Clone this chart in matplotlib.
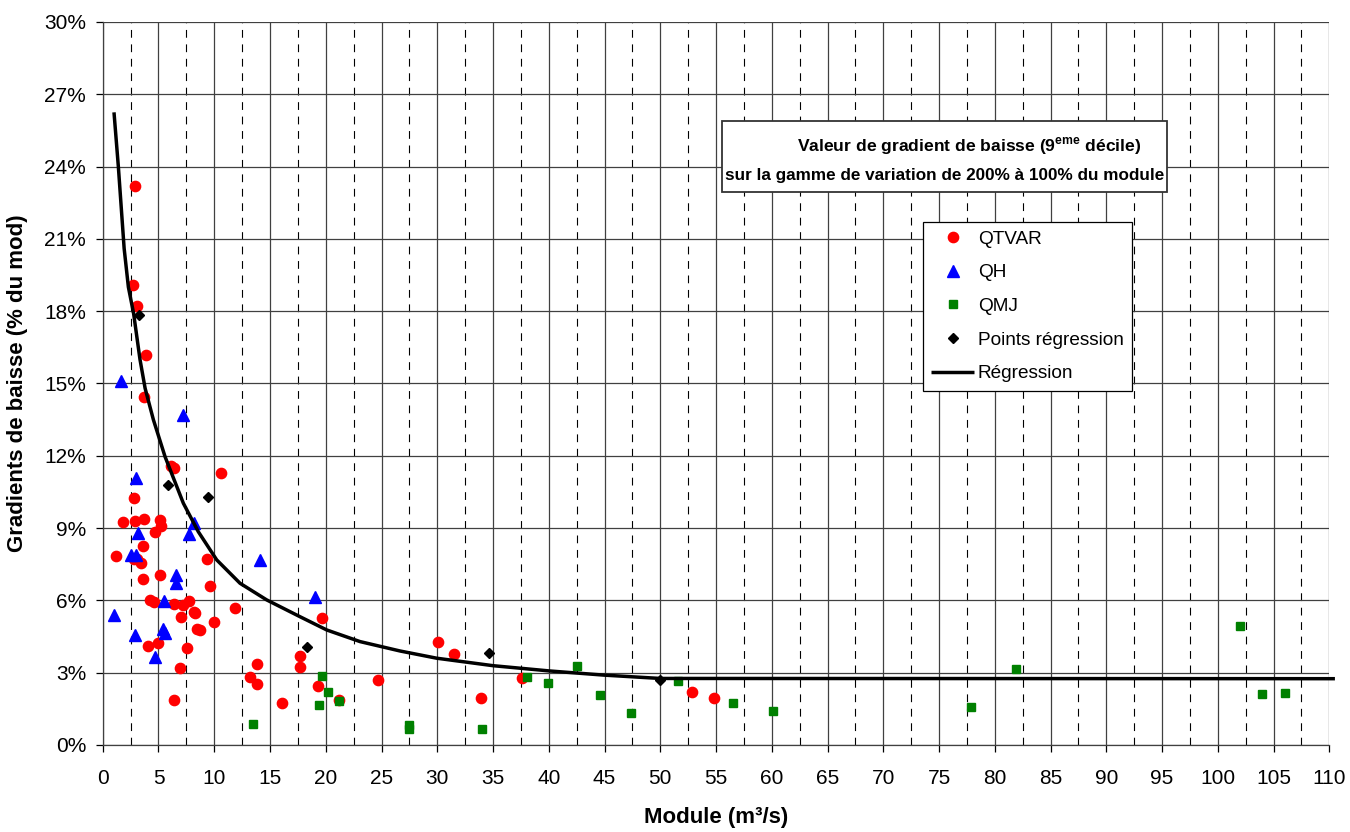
import matplotlib
matplotlib.use("Agg")
import numpy as np
import matplotlib.pyplot as plt
from matplotlib.ticker import FixedLocator, FuncFormatter
from matplotlib.patches import Rectangle

plt.rcParams['font.family'] = ['Liberation Sans', 'DejaVu Sans']
plt.rcParams['mathtext.fontset'] = 'custom'
plt.rcParams['mathtext.rm'] = 'Liberation Sans'
plt.rcParams['mathtext.bf'] = 'Liberation Sans:bold'

# QTVAR stations: module (m3/s) and gradient (% du module)
qtvar_x = [2.9, 2.7, 3.1, 3.9, 3.7, 6.1, 6.35, 10.6, 2.8, 1.8, 2.9, 3.7, 5.1, 5.23,
           4.7, 3.64, 1.19, 2.8, 3.1, 3.45, 5.1, 3.6, 9.62, 9.38, 4.24, 4.6, 6.35,
           7.2, 7.77, 8.2, 8.28, 7.0, 11.9, 10.0, 8.43, 8.72, 4.1, 4.97, 7.55, 6.9,
           13.8, 13.2, 13.8, 6.42, 16.1, 17.7, 17.7, 19.3, 19.7, 21.2, 24.7, 30.1,
           31.5, 33.9, 37.6, 52.8, 54.8]
qtvar_y = [23.2, 19.1, 18.2, 16.2, 14.45, 11.58, 11.5, 11.3, 10.24, 9.24, 9.31, 9.38,
           9.33, 9.09, 8.85, 8.27, 7.83, 7.72, 7.72, 7.56, 7.04, 6.9, 6.58, 7.73,
           6.02, 5.95, 5.87, 5.8, 5.99, 5.53, 5.49, 5.3, 5.68, 5.12, 4.83, 4.77,
           4.09, 4.23, 4.01, 3.18, 3.36, 2.81, 2.53, 1.85, 1.74, 3.71, 3.24, 2.43,
           5.28, 1.87, 2.7, 4.26, 3.79, 1.96, 2.77, 2.21, 1.96]

# QH stations
qh_x = [1.6, 7.23, 3.0, 3.13, 8.2, 7.77, 2.5, 3.0, 6.54, 6.54, 14.1, 5.47, 0.98,
        2.9, 5.38, 5.55, 4.69, 19.0]
qh_y = [15.1, 13.69, 11.07, 8.78, 9.2, 8.75, 7.9, 7.9, 7.05, 6.74, 7.68, 5.97, 5.39,
        4.58, 4.82, 4.65, 3.67, 6.12]

# QMJ stations
qmj_x = [13.48, 19.7, 20.2, 19.4, 21.2, 27.5, 27.5, 34.0, 38.08, 39.9, 42.5, 44.6,
         47.4, 51.6, 56.5, 60.1, 77.9, 81.9, 102.0, 104.0, 106.0]
qmj_y = [0.85, 2.86, 2.2, 1.66, 1.84, 0.84, 0.67, 0.68, 2.81, 2.57, 3.29, 2.09,
         1.34, 2.67, 1.74, 1.41, 1.58, 3.15, 4.95, 2.13, 2.16]

# Points used for the regression
pts_x = [3.26, 5.83, 9.4, 18.35, 34.67, 50.0]
pts_y = [17.83, 10.8, 10.28, 4.05, 3.8, 2.68]

# Regression curve
reg_x = [1.01, 1.40, 1.92, 2.3, 2.77, 3.34, 3.8, 4.54, 5.59, 7.23, 8.57, 10.22,
         12.31, 14.7, 17.7, 20.1, 23.07, 26.66, 29.95, 35.0, 40.1, 44.9, 50.0, 110.5]
reg_y = [26.25, 24.0, 20.6, 19.0, 17.9, 16.0, 14.8, 13.5, 11.96, 10.03, 8.85, 7.68,
         6.71, 6.02, 5.32, 4.77, 4.29, 3.90, 3.60, 3.29, 3.07, 2.90, 2.76, 2.75]

x_major = np.arange(0, 111, 5)
x_minor = np.arange(2.5, 110, 5)
y_major = np.arange(0, 31, 3)

fig = plt.figure(figsize=(13.5, 8.32), dpi=100)
ax = fig.add_axes([0.0761, 0.1046, 0.9086, 0.869])

ax.set_xlim(0, 110)
ax.set_ylim(0, 30)
ax.xaxis.set_major_locator(FixedLocator(x_major))
ax.xaxis.set_minor_locator(FixedLocator(x_minor))
ax.yaxis.set_major_locator(FixedLocator(y_major))
ax.yaxis.set_major_formatter(FuncFormatter(lambda v, p: f"{v:.0f}%"))
ax.xaxis.set_major_formatter(FuncFormatter(lambda v, p: f"{v:.0f}"))

ax.set_axisbelow(True)
ax.grid(which='major', axis='both', color='#404040', lw=0.9)
ax.grid(which='minor', axis='x', color='black', lw=0.8, ls=(0, (7, 6)))
ax.tick_params(which='minor', length=0)
ax.tick_params(which='major', direction='out', length=5, width=0.9,
               labelsize=15, colors='black')
ax.tick_params(axis='x', pad=12)
ax.tick_params(axis='y', pad=7)
for s in ('top', 'right'):
    ax.spines[s].set_visible(False)
for s in ('left', 'bottom'):
    ax.spines[s].set_color('#404040')
    ax.spines[s].set_linewidth(0.9)

ax.plot(qtvar_x, qtvar_y, ls='none', marker='o', ms=7.4, color='#FF0000',
        mec='#FF0000', label='QTVAR', zorder=3)
ax.plot(qh_x, qh_y, ls='none', marker='^', ms=8.4, color='#0000FF',
        mec='#0000FF', label='QH', zorder=3)
ax.plot(qmj_x, qmj_y, ls='none', marker='s', ms=6.4, color='#008000',
        mec='#008000', label='QMJ', zorder=3)
ax.plot(pts_x, pts_y, ls='none', marker='D', ms=5.2, color='black',
        label='Points régression', zorder=4)
ax.plot(reg_x, reg_y, color='black', lw=2.5, label='Régression', zorder=5,
        solid_joinstyle='round', solid_capstyle='butt', clip_on=False)

leg = ax.legend(loc='upper left', bbox_to_anchor=(923 / 1350, 1 - 222 / 832),
                bbox_transform=fig.transFigure, borderaxespad=0, fontsize=13.7,
                fancybox=False, framealpha=1, edgecolor='black',
                handlelength=2.25, handletextpad=0.2, labelspacing=0.86,
                borderpad=0.44)
leg.get_frame().set_linewidth(0.9)
leg.set_zorder(8)

# Title box
ax.add_patch(Rectangle((722 / 1350, 1 - 192 / 832), 445 / 1350, 71 / 832,
                       transform=fig.transFigure, facecolor='white',
                       edgecolor='#333333', lw=1.3, zorder=8, clip_on=False))
ax.text(969 / 1350, 1 - 151.7 / 832,
        r"Valeur de gradient de baisse (9$^{\mathbf{eme}}$ décile)",
        transform=fig.transFigure, ha='center', va='baseline', fontsize=12.6,
        fontweight='bold', zorder=9)
ax.text(944.5 / 1350, 1 - 180 / 832,
        "sur la gamme de variation de 200% à 100% du module",
        transform=fig.transFigure, ha='center', va='baseline', fontsize=12.3,
        fontweight='bold', zorder=9)

fig.text(716 / 1350, 1 - 818 / 832, "Module (m³/s)", ha='center', va='center',
         fontsize=16, fontweight='bold')
fig.text(18 / 1350, 1 - 383.5 / 832, "Gradients de baisse (% du mod)",
         ha='center', va='center', rotation=90, fontsize=16, fontweight='bold')

fig.savefig("out.png", dpi=100)
